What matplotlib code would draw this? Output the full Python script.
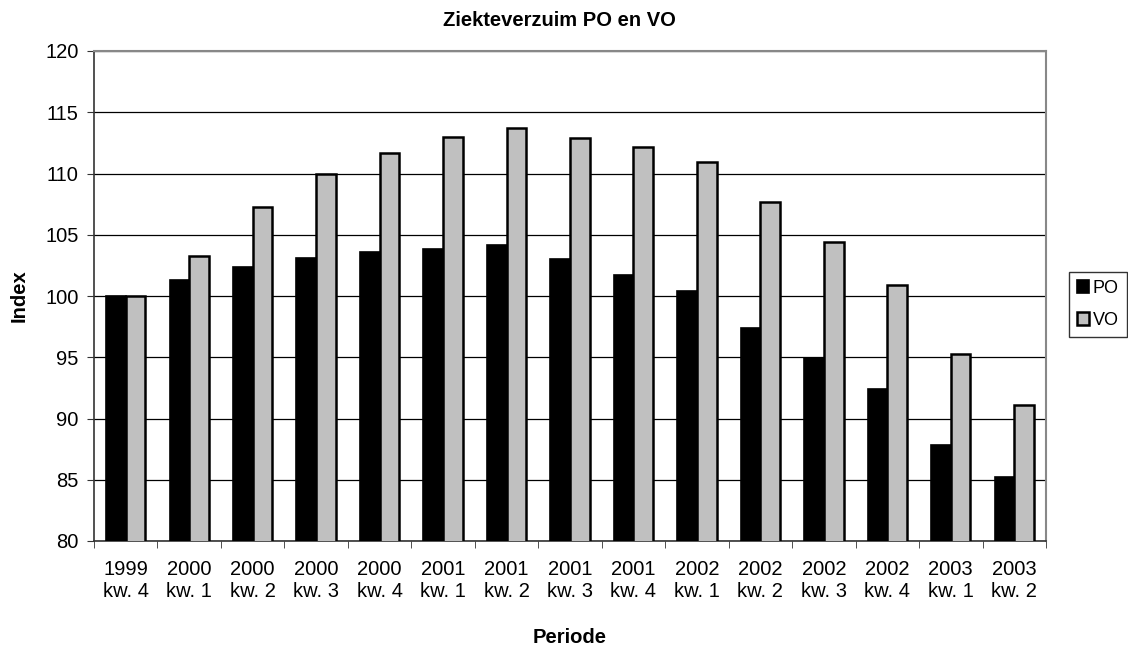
import numpy as np
import matplotlib.pyplot as plt

plt.rcParams['font.family'] = ['Liberation Sans', 'DejaVu Sans']

# data
periodes = ["1999\nkw. 4", "2000\nkw. 1", "2000\nkw. 2", "2000\nkw. 3", "2000\nkw. 4",
            "2001\nkw. 1", "2001\nkw. 2", "2001\nkw. 3", "2001\nkw. 4", "2002\nkw. 1",
            "2002\nkw. 2", "2002\nkw. 3", "2002\nkw. 4", "2003\nkw. 1", "2003\nkw. 2"]
po = [100.0, 101.3, 102.4, 103.1, 103.6, 103.8, 104.2, 103.0, 101.7, 100.4,
      97.4, 94.9, 92.4, 87.8, 85.2]
vo = [100.0, 103.3, 107.3, 110.0, 111.7, 113.0, 113.7, 112.9, 112.2, 110.9,
      107.7, 104.4, 100.9, 95.3, 91.1]

W, H = 1128, 645
fig = plt.figure(figsize=(W/100, H/100), dpi=100)
ax = fig.add_axes([94/W, 1-541/H, 952/W, 490/H])

x = np.arange(len(periodes))
w = 0.31
ax.bar(x - w/2, po, w, color='black', edgecolor='black', linewidth=1.2,
       label='PO', zorder=3)
ax.bar(x + w/2, vo, w, color='#c0c0c0', edgecolor='black', linewidth=1.8,
       label='VO', zorder=3)

ax.set_ylim(80, 120)
ax.set_xlim(-0.5, len(periodes) - 0.5)
ax.set_yticks(np.arange(80, 121, 5))
ax.yaxis.grid(True, color='black', linewidth=0.9, zorder=0)
ax.set_axisbelow(True)

ax.set_xticks(x)
ax.set_xticklabels(periodes, fontsize=14.5, linespacing=1.15)
ax.set_xticks(np.arange(-0.5, len(periodes), 1), minor=True)
ax.tick_params(axis='x', which='major', length=0, pad=14)
ax.tick_params(axis='x', which='minor', length=5, direction='out', color='#333333')
ax.tick_params(axis='y', length=5, direction='out', labelsize=14.5, pad=6, color='#333333')

for s in ['top', 'right']:
    ax.spines[s].set_color('#888888')
    ax.spines[s].set_linewidth(1.5)
for s in ['left', 'bottom']:
    ax.spines[s].set_color('#333333')
    ax.spines[s].set_linewidth(1.2)

fig.text(559/W, 1-26/H, "Ziekteverzuim PO en VO", fontsize=14.5, fontweight='bold',
         ha='center', va='baseline')
fig.text(570/W, 1-643/H, "Periode", fontsize=14.5, fontweight='bold',
         ha='center', va='baseline')
fig.text(19.5/W, 1-295.5/H, "Index", fontsize=14.5, fontweight='bold',
         ha='center', va='center', rotation=90)

leg = fig.legend(loc='upper left', bbox_to_anchor=(1069/W, 1-272/H),
                 frameon=True, fancybox=False, fontsize=13, handlelength=0.65,
                 handleheight=0.7, handletextpad=0.2, borderpad=0.45,
                 labelspacing=0.8, borderaxespad=0)
leg.get_frame().set_edgecolor('black')
leg.get_frame().set_linewidth(1.0)

fig.savefig("out.png", dpi=100)
